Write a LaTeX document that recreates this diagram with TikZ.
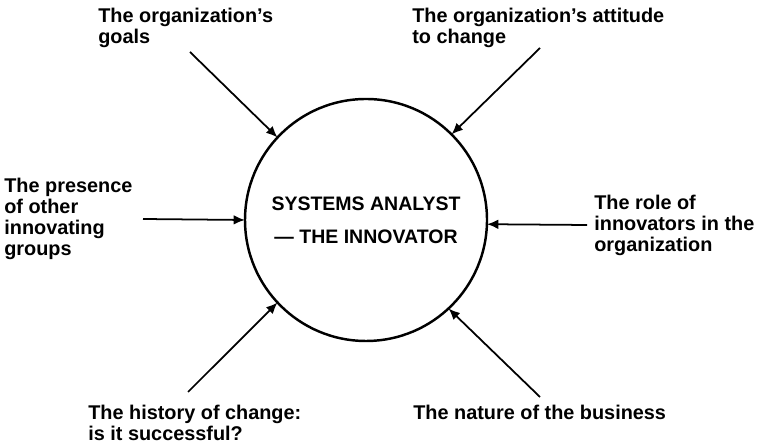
\documentclass[tikz,border=0pt]{standalone}
\usepackage{fontspec}
\setmainfont{Liberation Sans}
\usetikzlibrary{arrows.meta}

\tikzset{
  factor/.style={anchor=north west, inner sep=0pt, align=left,
    font=\bfseries\fontsize{11.3}{12.0}\selectfont},
  influence/.style={->, line width=1pt},
}

\begin{document}
\begin{tikzpicture}[>={Latex[length=6.5pt,width=5.5pt]}]

  \useasboundingbox (0,0) rectangle (15.16,8.90);

  % Centre: the analyst
  \node[circle, draw, line width=1.4pt, outer sep=0pt, minimum size=4.84cm,
        align=center, font=\bfseries\fontsize{11.1}{18.7}\selectfont]
        (analyst) at (7.32,4.50) {SYSTEMS ANALYST\\ \textemdash\ THE INNOVATOR};

  % Factors round the circle
  \node[factor] (goals)    at (1.96,8.74)  {The organization's\\goals};
  \node[factor] (attitude) at (8.24,8.74)  {The organization's attitude\\to change};
  \node[factor] (presence) at (0.08,5.34)  {The presence\\of other\\innovating\\groups};
  \node[factor] (role)     at (11.88,5.00) {The role of\\innovators in the\\organization};
  \node[factor] (history)  at (1.76,0.80)  {The history of change:\\is it successful?};
  \node[factor] (nature)   at (8.26,0.80)  {The nature of the business};

  % Free ends of the arrows
  \coordinate (goals-in)    at (3.80,7.86);
  \coordinate (attitude-in) at (10.80,7.94);
  \coordinate (presence-in) at (2.86,4.52);
  \coordinate (role-in)     at (11.74,4.40);
  \coordinate (history-in)  at (3.76,1.06);
  \coordinate (nature-in)   at (10.80,0.96);

  % Arrows into the circle
  \draw[influence] (goals-in)    -- (analyst.137);
  \draw[influence] (attitude-in) -- (analyst.45);
  \draw[influence] (presence-in) -- (analyst.180);
  \draw[influence] (role-in)     -- (analyst.-2.4);
  \draw[influence] (history-in)  -- (analyst.223);
  \draw[influence] (nature-in)   -- (analyst.-47);

\end{tikzpicture}
\end{document}
